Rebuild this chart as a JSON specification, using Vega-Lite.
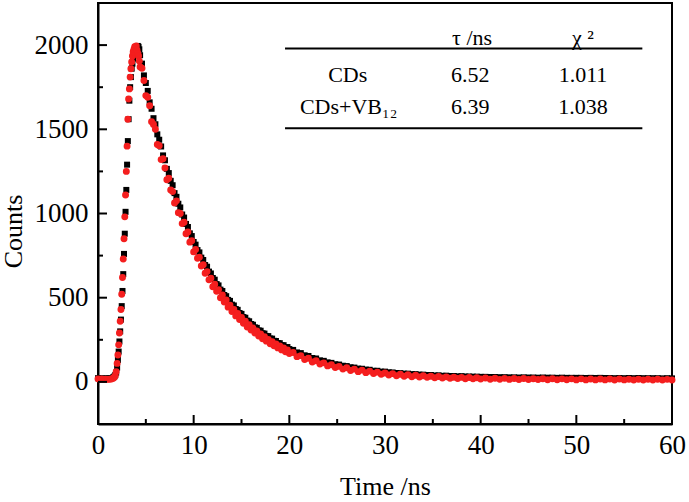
{
  "$schema": "https://vega.github.io/schema/vega-lite/v6.json",
  "width": 574,
  "height": 421,
  "autosize": {"type": "none"},
  "padding": {"left": 98, "top": 3, "right": 17, "bottom": 78},
  "background": "white",
  "config": {
    "view": {"stroke": "black", "strokeWidth": 2},
    "font": "Liberation Serif",
    "axis": {
      "grid": false,
      "ticks": false,
      "labelFlush": false,
      "domainColor": "black",
      "domainWidth": 2,
      "labelFont": "Liberation Serif",
      "labelFontSize": 27,
      "labelColor": "black",
      "titleFont": "Liberation Serif",
      "titleFontSize": 26,
      "titleFontWeight": "normal",
      "titleColor": "black"
    }
  },
  "datasets": {
    "d": [
      {"t":0.0,"k":22,"r":18},{"t":0.2,"k":20,"r":16},{"t":0.4,"k":21,"r":17},{"t":0.6,"k":19,"r":15},
      {"t":0.8,"k":20,"r":16},{"t":1.0,"k":21,"r":15},{"t":1.2,"k":20,"r":16},{"t":1.4,"k":22,"r":17},
      {"t":1.6,"k":28,"r":22},{"t":1.7,"k":32,"r":28},{"t":1.8,"k":40,"r":36},{"t":1.9,"k":55,"r":60},
      {"t":2.0,"k":85,"r":110},{"t":2.08,"k":130,"r":160},{"t":2.16,"k":180,"r":220},{"t":2.24,"k":240,"r":290},
      {"t":2.32,"k":300,"r":360},{"t":2.4,"k":370,"r":430},{"t":2.48,"k":450,"r":520},{"t":2.56,"k":540,"r":620},
      {"t":2.64,"k":640,"r":730},{"t":2.72,"k":760,"r":850},{"t":2.8,"k":880,"r":980},{"t":2.88,"k":1010,"r":1110},
      {"t":2.96,"k":1140,"r":1250},{"t":3.04,"k":1290,"r":1400},{"t":3.12,"k":1430,"r":1560},{"t":3.2,"k":1560,"r":1680},
      {"t":3.28,"k":1670,"r":1740},{"t":3.36,"k":1750,"r":1810},{"t":3.44,"k":1810,"r":1860},{"t":3.52,"k":1860,"r":1900},
      {"t":3.6,"k":1890,"r":1935},{"t":3.68,"k":1920,"r":1960},{"t":3.76,"k":1940,"r":1975},{"t":3.84,"k":1960,"r":1990},
      {"t":3.92,"k":1975,"r":1985},{"t":4.0,"k":1985,"r":1995},{"t":4.08,"k":1990,"r":1970},{"t":4.16,"k":1995,"r":1950},
      {"t":4.24,"k":1990,"r":1935},{"t":4.32,"k":1975,"r":1905},
      {"t":4.4,"k":1940,"r":1870},{"t":4.6,"k":1890,"r":1862},{"t":4.8,"k":1820,"r":1790},{"t":5.0,"k":1775,"r":1700},
      {"t":5.2,"k":1728,"r":1690},{"t":5.4,"k":1660,"r":1640},{"t":5.6,"k":1622,"r":1545},{"t":5.8,"k":1566,"r":1528},
      {"t":6.0,"k":1530,"r":1500},{"t":6.2,"k":1470,"r":1410},{"t":6.4,"k":1438,"r":1402},{"t":6.6,"k":1398,"r":1320},
      {"t":6.8,"k":1345,"r":1325},{"t":7.0,"k":1316,"r":1270},{"t":7.2,"k":1265,"r":1200},{"t":7.4,"k":1240,"r":1210},
      {"t":7.6,"k":1194,"r":1140},{"t":7.8,"k":1168,"r":1130},{"t":8.0,"k":1121,"r":1062},{"t":8.2,"k":1099,"r":1075},
      {"t":8.4,"k":1058,"r":1005},{"t":8.6,"k":1036,"r":1000},{"t":8.8,"k":994,"r":940},{"t":9.0,"k":976,"r":948},
      {"t":9.2,"k":938,"r":880},{"t":9.4,"k":920,"r":890},{"t":9.6,"k":882,"r":830},{"t":9.8,"k":866,"r":838},
      {"t":10.0,"k":831,"r":772},{"t":10.2,"k":815,"r":786},{"t":10.4,"k":783,"r":734},{"t":10.6,"k":769,"r":740},
      {"t":10.8,"k":738,"r":688},{"t":11.0,"k":724,"r":696},{"t":11.2,"k":694,"r":645},{"t":11.4,"k":684,"r":655},
      {"t":11.6,"k":655,"r":606},{"t":11.8,"k":644,"r":616},{"t":12.0,"k":617,"r":565},{"t":12.2,"k":607,"r":580},
      {"t":12.4,"k":581,"r":538},{"t":12.6,"k":573,"r":548},{"t":12.8,"k":548,"r":500},{"t":13.0,"k":540,"r":516},
      {"t":13.2,"k":516,"r":474},{"t":13.4,"k":509,"r":486},{"t":13.6,"k":487,"r":444},{"t":13.8,"k":481,"r":456},
      {"t":14.0,"k":459,"r":418},{"t":14.2,"k":454,"r":430},{"t":14.4,"k":433,"r":392},{"t":14.6,"k":428,"r":406},
      {"t":14.8,"k":409,"r":370},{"t":15.0,"k":404,"r":383},{"t":15.2,"k":385,"r":348},{"t":15.4,"k":381,"r":360},
      {"t":15.6,"k":364,"r":326},{"t":15.8,"k":360,"r":340},{"t":16.0,"k":344,"r":308},{"t":16.2,"k":340,"r":320},
      {"t":16.4,"k":324,"r":290},{"t":16.6,"k":321,"r":302},{"t":16.8,"k":306,"r":272},{"t":17.0,"k":304,"r":284},
      {"t":17.2,"k":289,"r":256},{"t":17.4,"k":287,"r":268},{"t":17.6,"k":273,"r":242},{"t":17.8,"k":272,"r":252},
      {"t":18.0,"k":258,"r":227},{"t":18.2,"k":257,"r":239},{"t":18.4,"k":244,"r":214},{"t":18.6,"k":243,"r":226},
      {"t":18.8,"k":231,"r":202},{"t":19.0,"k":230,"r":213},{"t":19.2,"k":218,"r":190},{"t":19.4,"k":218,"r":201},
      {"t":19.6,"k":206,"r":179},{"t":19.8,"k":207,"r":190},{"t":20.0,"k":195,"r":168},
      {"t":20.4,"k":190,"r":175},{"t":20.8,"k":175,"r":150},{"t":21.2,"k":171,"r":156},{"t":21.6,"k":158,"r":133},
      {"t":22.0,"k":154,"r":140},{"t":22.4,"k":142,"r":118},{"t":22.8,"k":139,"r":126},{"t":23.2,"k":128,"r":106},
      {"t":23.6,"k":125,"r":113},{"t":24.0,"k":116,"r":95},{"t":24.4,"k":113,"r":102},{"t":24.8,"k":105,"r":85},
      {"t":25.2,"k":103,"r":92},{"t":25.6,"k":96,"r":76},{"t":26.0,"k":94,"r":84},{"t":26.4,"k":87,"r":68},
      {"t":26.8,"k":85,"r":76},{"t":27.2,"k":79,"r":61},{"t":27.6,"k":78,"r":70},{"t":28.0,"k":73,"r":55},
      {"t":28.4,"k":72,"r":64},{"t":28.8,"k":66,"r":50},{"t":29.2,"k":66,"r":58},{"t":29.6,"k":61,"r":45},
      {"t":30.0,"k":61,"r":53},{"t":30.4,"k":57,"r":41},{"t":30.8,"k":56,"r":49},{"t":31.2,"k":53,"r":37},
      {"t":31.6,"k":52,"r":45},{"t":32.0,"k":49,"r":34},{"t":32.4,"k":49,"r":42},{"t":32.8,"k":46,"r":31},
      {"t":33.2,"k":46,"r":39},{"t":33.6,"k":43,"r":29},{"t":34.0,"k":43,"r":36},{"t":34.4,"k":41,"r":27},
      {"t":34.8,"k":41,"r":34},{"t":35.2,"k":38,"r":25},{"t":35.6,"k":39,"r":32},{"t":36.0,"k":36,"r":23},
      {"t":36.4,"k":37,"r":30},{"t":36.8,"k":35,"r":22},{"t":37.2,"k":35,"r":28},{"t":37.6,"k":33,"r":20},
      {"t":38.0,"k":34,"r":27},{"t":38.4,"k":32,"r":19},{"t":38.8,"k":32,"r":26},{"t":39.2,"k":31,"r":18},
      {"t":39.6,"k":31,"r":25},{"t":40.0,"k":30,"r":17},
      {"t":40.5,"k":30,"r":23},{"t":41.0,"k":29,"r":16},{"t":41.5,"k":29,"r":22},{"t":42.0,"k":28,"r":15},
      {"t":42.5,"k":28,"r":21},{"t":43.0,"k":27,"r":15},{"t":43.5,"k":27,"r":20},{"t":44.0,"k":26,"r":14},
      {"t":44.5,"k":27,"r":20},{"t":45.0,"k":26,"r":14},{"t":45.5,"k":26,"r":19},{"t":46.0,"k":25,"r":14},
      {"t":46.5,"k":26,"r":19},{"t":47.0,"k":25,"r":13},{"t":47.5,"k":25,"r":19},{"t":48.0,"k":24,"r":13},
      {"t":48.5,"k":25,"r":18},{"t":49.0,"k":24,"r":13},{"t":49.5,"k":24,"r":18},{"t":50.0,"k":24,"r":12},
      {"t":50.5,"k":24,"r":18},{"t":51.0,"k":23,"r":12},{"t":51.5,"k":24,"r":17},{"t":52.0,"k":23,"r":12},
      {"t":52.5,"k":24,"r":17},{"t":53.0,"k":23,"r":12},{"t":53.5,"k":23,"r":17},{"t":54.0,"k":22,"r":11},
      {"t":54.5,"k":23,"r":17},{"t":55.0,"k":22,"r":12},{"t":55.5,"k":23,"r":16},{"t":56.0,"k":22,"r":11},
      {"t":56.5,"k":23,"r":16},{"t":57.0,"k":22,"r":11},{"t":57.5,"k":22,"r":16},{"t":58.0,"k":22,"r":11},
      {"t":58.5,"k":22,"r":16},{"t":59.0,"k":21,"r":11},{"t":59.5,"k":22,"r":15},{"t":60.0,"k":21,"r":11}
    ],
    "rules": [
      {"x1":19.55,"x2":56.9,"y":1980},
      {"x1":19.55,"x2":56.9,"y":1506}
    ],
    "tab": [
      {"tx":39.1,"ty":2042,"s":"τ /ns"},
      {"tx":50.7,"ty":2042,"s":"χ ²"},
      {"tx":26.1,"ty":1822,"s":"CDs"},
      {"tx":38.9,"ty":1822,"s":"6.52"},
      {"tx":50.7,"ty":1822,"s":"1.011"},
      {"tx":26.2,"ty":1632,"s":"CDs+VB₁₂"},
      {"tx":38.9,"ty":1632,"s":"6.39"},
      {"tx":50.7,"ty":1632,"s":"1.038"}
    ],
    "xt": [
      {"v":10,"m":1},{"v":20,"m":1},{"v":30,"m":1},{"v":40,"m":1},{"v":50,"m":1},
      {"v":5,"m":0},{"v":15,"m":0},{"v":25,"m":0},{"v":35,"m":0},{"v":45,"m":0},{"v":55,"m":0}
    ],
    "yt": [
      {"v":0,"m":1},{"v":500,"m":1},{"v":1000,"m":1},{"v":1500,"m":1},{"v":2000,"m":1},
      {"v":250,"m":0},{"v":750,"m":0},{"v":1250,"m":0},{"v":1750,"m":0}
    ]
  },
  "layer": [
    {
      "data": {"name": "d"},
      "mark": {"type": "point", "shape": "square", "filled": true, "color": "black", "opacity": 1, "size": 36},
      "encoding": {
        "x": {"field": "t", "type": "quantitative", "scale": {"domain": [0, 60], "nice": false},
          "axis": {"title": "Time /ns", "values": [0,10,20,30,40,50,60], "labelPadding": 8, "titlePadding": 15}},
        "y": {"field": "k", "type": "quantitative", "scale": {"domain": [-250, 2250], "nice": false},
          "axis": {"title": "Counts", "values": [0,500,1000,1500,2000], "format": "d",
            "labelPadding": 10, "titlePadding": 8, "titleY": 228}}
      }
    },
    {
      "data": {"name": "d"},
      "mark": {"type": "point", "shape": "circle", "filled": true, "color": "#f41e1e", "opacity": 1, "size": 48},
      "encoding": {
        "x": {"field": "t", "type": "quantitative"},
        "y": {"field": "r", "type": "quantitative"}
      }
    },
    {
      "data": {"name": "rules"},
      "mark": {"type": "rule", "color": "black", "strokeWidth": 2},
      "encoding": {
        "x": {"field": "x1", "type": "quantitative"},
        "x2": {"field": "x2"},
        "y": {"field": "y", "type": "quantitative"}
      }
    },
    {
      "data": {"name": "tab"},
      "mark": {"type": "text", "font": "Liberation Serif", "fontSize": 22, "color": "black", "align": "center", "baseline": "middle"},
      "encoding": {
        "x": {"field": "tx", "type": "quantitative"},
        "y": {"field": "ty", "type": "quantitative"},
        "text": {"field": "s"}
      }
    },
    {
      "data": {"name": "xt"},
      "transform": [{"filter": "datum.m == 1"}],
      "mark": {"type": "rule", "color": "black", "strokeWidth": 2, "y2Offset": -9},
      "encoding": {
        "x": {"field": "v", "type": "quantitative"},
        "y": {"datum": -250, "type": "quantitative"},
        "y2": {"datum": -250}
      }
    },
    {
      "data": {"name": "xt"},
      "transform": [{"filter": "datum.m == 0"}],
      "mark": {"type": "rule", "color": "black", "strokeWidth": 2, "y2Offset": -5},
      "encoding": {
        "x": {"field": "v", "type": "quantitative"},
        "y": {"datum": -250, "type": "quantitative"},
        "y2": {"datum": -250}
      }
    },
    {
      "data": {"name": "yt"},
      "transform": [{"filter": "datum.m == 1"}],
      "mark": {"type": "rule", "color": "black", "strokeWidth": 2, "x2Offset": 9},
      "encoding": {
        "y": {"field": "v", "type": "quantitative"},
        "x": {"datum": 0, "type": "quantitative"},
        "x2": {"datum": 0}
      }
    },
    {
      "data": {"name": "yt"},
      "transform": [{"filter": "datum.m == 0"}],
      "mark": {"type": "rule", "color": "black", "strokeWidth": 2, "x2Offset": 5},
      "encoding": {
        "y": {"field": "v", "type": "quantitative"},
        "x": {"datum": 0, "type": "quantitative"},
        "x2": {"datum": 0}
      }
    }
  ]
}
